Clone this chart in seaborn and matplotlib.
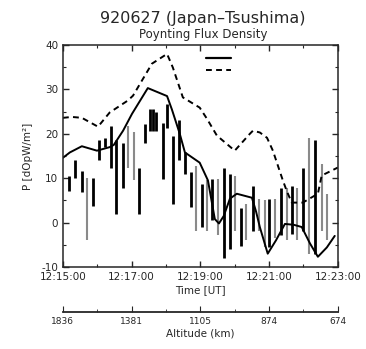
import numpy as np
import pandas as pd
import matplotlib
matplotlib.use("Agg")
import matplotlib.pyplot as plt
from matplotlib.lines import Line2D
import seaborn as sns

# time in minutes after 12:15:00
solid_t = [0.0, 0.2, 0.55, 0.99, 1.36, 1.48, 1.75, 2.01, 2.47, 3.03, 3.17, 3.4, 3.55,
           3.98, 4.22, 4.42, 4.54, 4.68, 4.86, 5.06, 5.5, 5.62, 5.73, 5.96, 6.2,
           6.46, 6.72, 6.95, 7.19, 7.42, 7.68, 7.91]
solid_p = [14.6, 15.8, 17.2, 16.2, 17.0, 17.5, 20.7, 24.5, 30.3, 28.5, 25.5, 20.0, 15.8,
           13.5, 9.5, 0.8, -0.2, 1.5, 5.4, 6.5, 5.6, 2.5, -1.0, -7.0, -4.0,
           -0.3, -0.5, -1.0, -4.7, -7.7, -5.6, -3.0]

dash_t = [0.0, 0.26, 0.55, 1.02, 1.36, 1.89, 2.04, 2.59, 3.03, 3.2, 3.49, 3.98, 4.19,
          4.48, 5.0, 5.44, 5.53, 5.73, 5.94, 6.11, 6.4, 6.52, 6.66, 6.98, 7.42, 7.53, 8.0]
dash_p = [23.6, 23.8, 23.6, 21.6, 24.8, 27.5, 28.6, 35.8, 38.0, 34.9, 28.2, 25.9, 23.4,
          19.6, 16.2, 20.0, 20.7, 20.3, 19.1, 16.2, 9.5, 7.0, 4.5, 4.5, 6.5, 10.6, 12.4]

# vertical range bars: time, low, high
bar_t = [0.17, 0.35, 0.55, 0.7, 0.87, 1.05, 1.22, 1.4, 1.54, 1.75, 1.89, 2.06, 2.2,
         2.38, 2.53, 2.62, 2.71, 2.91, 3.03, 3.2, 3.37, 3.55, 3.72, 3.87, 4.04, 4.19,
         4.33, 4.51, 4.68, 4.86, 5.0, 5.18, 5.32, 5.53, 5.7, 5.87, 5.99, 6.16, 6.34,
         6.51, 6.66, 6.8, 6.98, 7.16, 7.33, 7.53, 7.68]
bar_lo = [7.2, 10.1, 6.8, -4.0, 3.8, 14.0, 17.0, 12.4, 2.0, 7.9, 12.2, 9.5, 2.0,
          18.0, 20.7, 20.7, 20.7, 9.9, 21.2, 4.3, 14.0, 11.0, 3.4, -1.8, -1.1, -1.8,
          0.5, -2.9, -7.9, -5.9, -1.8, -5.2, -4.0, -1.8, -1.8, -5.6, -5.6, -3.4, -2.9,
          -4.0, -2.5, -4.0, -1.8, -7.0, -7.0, -1.8, -4.0]
bar_hi = [10.6, 14.0, 11.7, 10.1, 10.1, 18.5, 19.0, 21.8, 18.5, 18.0, 21.8, 20.3, 12.4,
          22.3, 25.7, 25.7, 24.8, 22.5, 26.8, 19.6, 23.0, 15.8, 11.3, 12.8, 8.8, 9.5,
          9.9, 9.9, 12.4, 11.0, 10.6, 3.2, 4.3, 8.3, 5.4, 5.0, 5.4, 5.4, 7.9,
          7.9, 8.3, 7.9, 12.2, 19.1, 18.5, 13.3, 6.5]
bar_gray = [0, 0, 0, 1, 0, 0, 0, 0, 0, 0, 1, 1, 0,
            0, 0, 0, 0, 0, 0, 0, 0, 0, 0, 1, 0, 1,
            0, 1, 0, 0, 1, 0, 1, 0, 1, 1, 0, 1, 0,
            1, 0, 1, 0, 1, 0, 1, 1]

time_ticks = [0, 2, 4, 6, 8]
time_labels = ["12:15:00", "12:17:00", "12:19:00", "12:21:00", "12:23:00"]
alt_labels = ["1836", "1381", "1105", "874", "674"]

sns.set_style("ticks")
plt.rcParams['font.family'] = ['DejaVu Sans']
plt.rcParams['axes.unicode_minus'] = False

fig = plt.figure(figsize=(3.66, 3.49), dpi=100)
ax = fig.add_axes([0.172, 0.235, 0.751, 0.636])

bars = pd.DataFrame({"t": bar_t, "lo": bar_lo, "hi": bar_hi, "gray": bar_gray})
for g, col, lw in [(1, "#8a8a8a", 1.5), (0, "black", 2.0)]:
    sub = bars[bars["gray"] == g]
    ax.vlines(sub["t"], sub["lo"], sub["hi"], colors=col, linewidth=lw)

solid = pd.DataFrame({"t": solid_t, "p": solid_p})
dash = pd.DataFrame({"t": dash_t, "p": dash_p})
sns.lineplot(data=solid, x="t", y="p", ax=ax, color="black", linewidth=1.4, sort=False)
sns.lineplot(data=dash, x="t", y="p", ax=ax, color="black", linewidth=1.4, sort=False,
             dashes=False, linestyle=(0, (3.0, 2.2)))

ax.set_xlim(0, 8)
ax.set_ylim(-10, 40)
ax.set_xticks(time_ticks)
ax.set_xticklabels(time_labels)
ax.set_xticks(np.arange(0, 9, 1), minor=True)
ax.set_yticks([-10, 0, 10, 20, 30, 40])
ax.set_yticks(np.arange(-10, 41, 5), minor=True)
ax.tick_params(which="both", direction="in", top=True, right=True, labelsize=7.5)
ax.tick_params(which="major", length=4, width=1)
ax.tick_params(which="minor", length=2.5, width=0.8)
for s in ax.spines.values():
    s.set_linewidth(1.1)

ax.set_xlabel("Time [UT]", fontsize=7.5, labelpad=2)
ax.set_ylabel("P [dOpW/m²]", fontsize=7.5, labelpad=6)

fig.text(0.555, 0.935, "920627 (Japan–Tsushima)", ha="center", fontsize=11.5)
fig.text(0.555, 0.89, "Poynting Flux Density", ha="center", fontsize=8.5)

handles = [Line2D([], [], color="black", linewidth=1.6),
           Line2D([], [], color="black", linewidth=1.4, linestyle=(0, (3.0, 2.2)))]
ax.legend(handles, ["", ""], loc="upper center", bbox_to_anchor=(0.565, 1.0),
          frameon=False, handlelength=2.6, handletextpad=0, labelspacing=0.15,
          fontsize=7)

sec = ax.secondary_xaxis(-0.203)
sec.set_xticks(time_ticks)
sec.set_xticklabels(alt_labels)
sec.set_xticks(np.arange(0, 9, 1), minor=True)
sec.tick_params(which="both", direction="in", labelsize=6.5)
sec.tick_params(which="major", length=4)
sec.tick_params(which="minor", length=2.5)
sec.spines["bottom"].set_linewidth(1.3)
sec.set_xlabel("Altitude (km)", fontsize=7.5, labelpad=2)

fig.savefig("out.png", dpi=100)
